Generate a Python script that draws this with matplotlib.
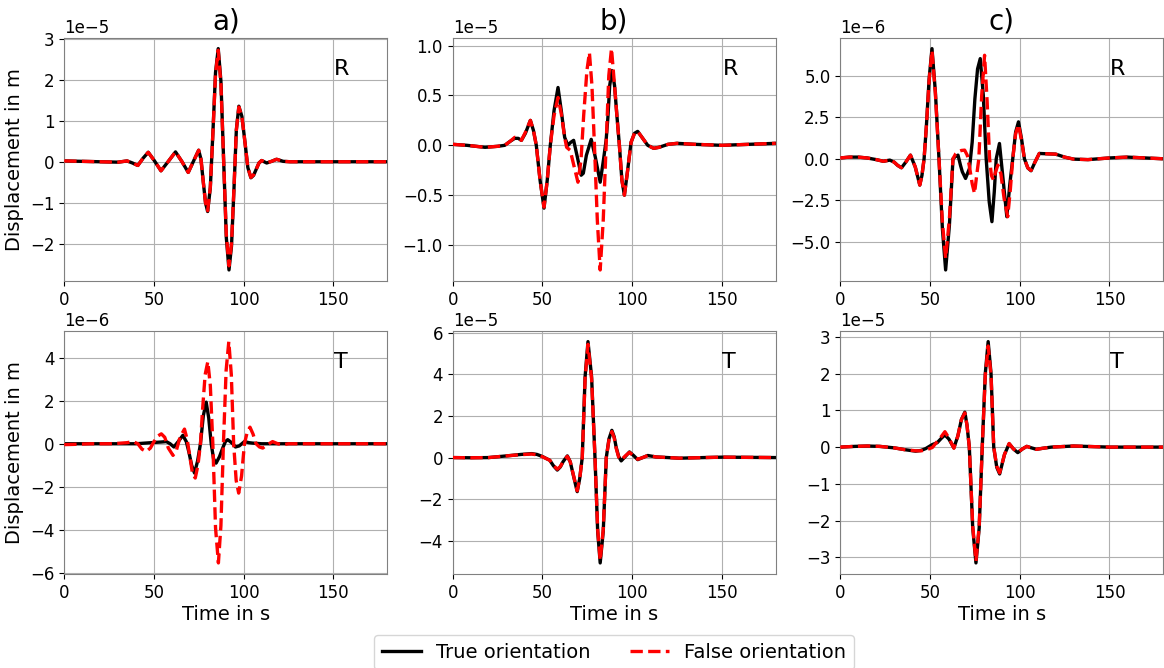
import matplotlib
matplotlib.use('Agg')
import matplotlib.pyplot as plt
from matplotlib.lines import Line2D

# ---- panel a) R  (x1e-5)
a_r_t = [0, 10, 20, 30, 35, 38, 41, 44, 46.8, 50.3, 53.9, 58, 62, 65.5, 69.1, 72.3, 74.9,
         76.2, 77.4, 78.7, 79.9, 81.4, 82.9, 84.3, 85.8, 87.3, 88.8, 90.3, 91.8, 93.2, 94.6,
         95.9, 97.3, 99.0, 100.7, 102.3, 104.0, 105.5, 107, 108.5, 110, 112.8, 115.5, 118.3,
         122, 126, 140, 160, 180]
a_r_true = [0.03, 0.02, 0.01, 0.0, 0.03, -0.02, -0.08, 0.1, 0.24, 0.03, -0.21, 0.02, 0.25, 0.02,
            -0.25, 0.05, 0.29, 0.07, -0.45, -0.98, -1.2, -0.62, 0.78, 2.18, 2.76, 1.97, 0.07,
            -1.83, -2.62, -2.04, -0.63, 0.78, 1.36, 1.11, 0.49, -0.13, -0.38, -0.32, -0.17,
            -0.02, 0.04, -0.02, 0.02, 0.07, 0.02, 0.01, 0.01, 0.01, 0.01]
a_r_false = [0.03, 0.02, 0.01, 0.0, 0.03, -0.02, -0.08, 0.1, 0.24, 0.03, -0.21, 0.02, 0.25, 0.02,
             -0.25, 0.05, 0.29, 0.07, -0.45, -0.98, -1.18, -0.6, 0.76, 2.14, 2.72, 1.9, 0.05,
             -1.75, -2.52, -1.98, -0.6, 0.78, 1.34, 1.1, 0.48, -0.13, -0.37, -0.31, -0.17,
             -0.02, 0.04, -0.02, 0.02, 0.07, 0.02, 0.01, 0.01, 0.01, 0.01]

# ---- panel b) R  (x1e-5)
b_r_t = [0, 8, 18, 25, 29, 32, 34.6, 36.5, 38.3, 40.5, 43.3, 45, 46.6, 48.7, 50.9, 52.7, 54.4,
         56.5, 58.7, 60.5, 62.4, 64.2, 65.8, 67.4, 69.5, 71.6, 72.8, 74.5, 77.2, 79.5, 82.2,
         84, 85.5, 86.5, 87.5, 88.8, 90.2, 91.5, 92.9, 94.3, 95.7, 97.5, 99.4, 101.3, 103.1,
         105.5, 108.7, 112, 115, 120, 125, 135, 150, 165, 180]
b_r_true = [0.01, 0.0, -0.02, -0.01, 0.0, 0.04, 0.07, 0.07, 0.05, 0.12, 0.25, 0.15, 0.0, -0.35,
            -0.63, -0.35, 0.0, 0.35, 0.58, 0.35, 0.08, 0.0, 0.03, 0.05, -0.12, -0.30, -0.28,
            -0.1, 0.06, -0.12, -0.37, -0.15, 0.05, 0.28, 0.6, 0.75, 0.6, 0.3, 0.0, -0.35, -0.50,
            -0.25, 0.03, 0.12, 0.14, 0.08, 0.0, -0.03, -0.02, 0.01, 0.02, 0.01, 0.0, 0.01, 0.02]
b_r_tf = [0, 8, 18, 25, 29, 32, 34.6, 36.5, 38.3, 40.5, 43.3, 45, 46.6, 48.7, 50.9, 52.7, 54.4,
          56.5, 58.7, 60.5, 62.4, 63.5, 65.5, 67.5, 69.8, 71.5, 73, 74.8, 76.2, 77.6, 79,
          80.6, 82.2, 83.9, 85.5, 87, 88.5, 90.2, 91.5, 92.9, 94.3, 95.7, 97.5, 99.4, 101.3,
          103.1, 105.5, 108.7, 112, 115, 120, 125, 135, 150, 165, 180]
b_r_false = [0.01, 0.0, -0.02, -0.01, 0.0, 0.04, 0.08, 0.07, 0.05, 0.13, 0.25, 0.15, 0.0, -0.35,
             -0.62, -0.35, 0.0, 0.3, 0.48, 0.32, 0.08, -0.02, -0.05, -0.2, -0.37, -0.15, 0.3,
             0.75, 0.93, 0.6, 0.0, -0.75, -1.25, -0.75, 0.0, 0.7, 0.97, 0.6, 0.3, 0.0, -0.35,
             -0.50, -0.25, 0.03, 0.12, 0.14, 0.08, 0.0, -0.03, -0.02, 0.01, 0.02, 0.01, 0.0,
             0.01, 0.02]

# ---- panel c) R  (x1e-6)
c_r_t = [0, 5, 10, 15, 20, 24, 27.6, 30, 32, 34.1, 36.5, 39.1, 41.8, 44.3, 45.5, 46.7, 48,
         49.5, 51.1, 53, 55, 56.9, 58.7, 60.8, 62.8, 64.3, 65.6, 67, 68, 69.8, 72, 73.5, 75,
         76.5, 78, 79.7, 81.3, 83, 84.5, 85.8, 86.9, 88.7, 90.5, 92.8, 94.5, 96.1, 97.7, 99.3,
         101, 102.6, 104.5, 106.3, 108.5, 110.9, 115, 120, 125, 130, 138, 150, 160, 170, 180]
c_r_true = [0.05, 0.1, 0.1, 0.05, -0.05, -0.15, -0.08, -0.2, -0.4, -0.54, -0.2, 0.22, -0.5,
            -1.58, -1.0, 0.0, 2.0, 4.8, 6.62, 4.0, 0.0, -4.2, -6.68, -4.0, 0.0, 0.15, 0.22,
            -0.4, -0.78, -1.18, -0.58, 1.0, 3.6, 5.4, 6.02, 3.8, 0.0, -2.6, -3.78, -2.0, 0.0,
            0.92, -1.0, -3.48, -1.5, 0.0, 1.6, 2.22, 1.2, 0.0, -0.55, -0.72, -0.2, 0.32, 0.3,
            0.28, 0.1, -0.02, -0.05, 0.05, 0.1, 0.05, 0.0]
c_r_tf = [0, 5, 10, 15, 20, 24, 27.6, 30, 32, 34.1, 36.5, 39.1, 41.8, 44.3, 45.5, 46.7, 48,
          49.5, 51.1, 53, 55, 56.9, 58.7, 60.8, 62.8, 64.3, 65.6, 67.5, 69.3, 70.8, 72, 73.5,
          74.8, 76, 77.2, 78.8, 80.4, 81.8, 83.2, 84.2, 85.4, 86.5, 87.8, 89.5, 91.3, 93.3,
          94.8, 96.1, 97.7, 99.3, 101, 102.6, 104.5, 106.3, 108.5, 110.9, 115, 120, 125, 130,
          138, 150, 160, 170, 180]
c_r_false = [0.05, 0.1, 0.1, 0.05, -0.05, -0.15, -0.08, -0.2, -0.4, -0.54, -0.2, 0.22, -0.5,
             -1.58, -1.0, 0.0, 2.0, 4.7, 6.5, 3.9, 0.0, -3.8, -5.98, -3.6, 0.0, 0.3, 0.42,
             0.5, 0.52, 0.2, -0.48, -1.5, -2.08, -1.0, 0.0, 3.8, 6.22, 3.5, 0.0, -1.0, -1.28,
             -0.8, -0.38, -0.9, -2.4, -3.48, -1.8, 0.0, 1.5, 2.05, 1.1, 0.0, -0.55, -0.7, -0.2,
             0.32, 0.3, 0.28, 0.1, -0.02, -0.05, 0.05, 0.1, 0.05, 0.0]

# ---- panel a) T  (x1e-6)
a_t_t = [0, 20, 40, 45, 50, 54, 56.9, 59, 61.1, 63.5, 66.1, 68, 69.5, 71, 72.6, 74.3, 75.9,
         77.5, 79.1, 80.5, 81.9, 83.2, 84.6, 86.5, 88.3, 89.8, 91.1, 92.5, 93.9, 95.4, 97.5,
         100.4, 103, 105, 110, 180]
a_t_true = [0.0, 0.0, 0.0, 0.03, 0.06, 0.08, 0.1, 0.0, -0.15, 0.1, 0.39, 0.1, -0.4, -1.0, -1.36,
            -0.8, 0.0, 1.3, 1.93, 1.2, 0.0, -0.7, -0.9, -0.6, -0.2, 0.1, 0.19, 0.1, 0.0, -0.15,
            -0.1, 0.1, 0.05, 0.03, 0.0, 0.0]
a_t_tf = [0, 5, 15, 25, 30, 35, 38.3, 41, 43.3, 45.7, 48, 50, 52, 54.1, 56, 58, 60.6, 62.5,
          64.5, 67, 68.5, 70, 71.5, 73, 74.5, 75.9, 77, 78.5, 80, 81.4, 82.8, 84.3, 85.9, 87.3,
          88.7, 90.2, 91.7, 93.1, 94.4, 95.8, 97.2, 98.8, 100.4, 102, 103.5, 105.2, 106.9,
          108.8, 110.6, 113, 116.1, 119, 121.7, 125, 180]
a_t_false = [-0.04, -0.03, 0.0, 0.0, 0.02, 0.05, 0.1, 0.0, -0.25, -0.36, -0.2, 0.1, 0.35, 0.46,
             0.3, -0.2, -0.54, -0.3, 0.3, 0.68, 0.2, -0.6, -1.4, -1.59, -1.0, 0.0, 1.5, 3.2,
             3.81, 2.7, 0.0, -3.9, -5.53, -3.8, 0.0, 3.4, 4.74, 3.2, 0.0, -1.7, -2.29, -1.5,
             0.0, 0.55, 0.77, 0.45, 0.0, -0.15, -0.2, -0.05, 0.1, 0.0, -0.05, 0.0, 0.0]

# ---- panel b) T  (x1e-5)
b_t_t = [0, 10, 20, 30, 38, 44, 47, 50, 54.1, 56.2, 58.3, 60, 61.5, 63.9, 65.5, 67, 69.4, 70.8,
         72.2, 73.8, 75.4, 77.4, 79.3, 80.8, 82.2, 83.9, 85.6, 87.1, 88.7, 90, 91.1, 92.5,
         93.9, 96.2, 98.5, 100.8, 103.1, 105.9, 108.7, 113.3, 120, 126.3, 140, 150, 165, 180]
b_t_true = [0.0, -0.01, 0.0, 0.08, 0.15, 0.19, 0.15, 0.05, -0.13, -0.4, -0.6, -0.45, -0.2, 0.08,
            -0.2, -0.76, -1.64, -1.0, 0.0, 3.9, 5.58, 3.9, 0.0, -3.55, -5.07, -3.55, 0.0, 0.9,
            1.31, 1.0, 0.5, 0.05, -0.16, 0.05, 0.27, 0.1, -0.1, 0.0, 0.1, 0.03, 0.0, -0.03, 0.0,
            0.02, 0.01, 0.0]
b_t_false = [0.0, -0.01, 0.0, 0.08, 0.14, 0.17, 0.13, 0.04, -0.13, -0.38, -0.56, -0.43, -0.2,
             0.06, -0.2, -0.74, -1.6, -1.0, 0.0, 3.8, 5.45, 3.8, 0.0, -3.45, -4.95, -3.45, 0.0,
             0.85, 1.25, 0.95, 0.45, 0.02, -0.12, 0.08, 0.25, 0.08, -0.08, 0.0, 0.1, 0.03, 0.0,
             -0.03, 0.0, 0.02, 0.01, 0.0]

# ---- panel c) T  (x1e-5)
c_t_t = [0, 8, 15, 22, 30, 36, 42, 45, 47.6, 51.3, 54, 56.5, 58.3, 60.5, 63.3, 65.5, 67.5, 69.4,
         70.6, 71.9, 73.8, 75.6, 77.4, 79.1, 80.8, 82.4, 84, 85.5, 87.2, 88.8, 91.5, 94.1, 96.5,
         98.9, 101.5, 103.9, 106.5, 109.3, 113, 117.6, 130, 150, 180]
c_t_true = [0.0, 0.02, 0.03, 0.02, -0.02, -0.07, -0.11, -0.09, -0.04, 0.07, 0.12, 0.25, 0.33,
            0.22, -0.02, 0.3, 0.75, 0.95, 0.6, 0.0, -2.2, -3.15, -2.2, 0.0, 2.0, 2.87, 2.0, 0.0,
            -0.55, -0.73, -0.2, 0.09, -0.05, -0.15, -0.05, 0.02, -0.02, -0.06, -0.03, 0.0, 0.03,
            0.0, 0.0]
c_t_false = [0.0, 0.02, 0.03, 0.02, -0.02, -0.07, -0.1, -0.1, -0.08, -0.01, 0.15, 0.3, 0.42,
             0.25, -0.03, 0.3, 0.75, 0.93, 0.6, 0.0, -2.15, -3.1, -2.15, 0.0, 1.95, 2.75, 1.95,
             0.0, -0.52, -0.7, -0.2, 0.1, -0.05, -0.14, -0.05, 0.02, -0.02, -0.06, -0.03, 0.0,
             0.03, 0.0, 0.0]

panel_titles = ['a)', 'b)', 'c)']
comp_labels = ['R', 'T']
legend_labels = ['True orientation', 'False orientation']

# (row, col): (t_true, true, t_false, false, scale)
panels = {
    (0, 0): (a_r_t, a_r_true, a_r_t, a_r_false, 1e-5),
    (0, 1): (b_r_t, b_r_true, b_r_tf, b_r_false, 1e-5),
    (0, 2): (c_r_t, c_r_true, c_r_tf, c_r_false, 1e-6),
    (1, 0): (a_t_t, a_t_true, a_t_tf, a_t_false, 1e-6),
    (1, 1): (b_t_t, b_t_true, b_t_t, b_t_false, 1e-5),
    (1, 2): (c_t_t, c_t_true, c_t_t, c_t_false, 1e-5),
}

fig = plt.figure(figsize=(11.64, 6.68), dpi=100)
lefts = [0.0552, 0.3889, 0.7219]
bottoms = [0.5793, 0.1407]
w, h = 0.2775, 0.3645

axes = {}
for (r, c), (tt, vt, tf, vf, sc) in panels.items():
    ax = fig.add_axes([lefts[c], bottoms[r], w, h])
    axes[(r, c)] = ax
    ax.plot(tt, [v * sc for v in vt], color='k', lw=2.4, zorder=2)
    ax.plot(tf, [v * sc for v in vf], color='red', lw=2.4, ls='--', zorder=3)
    ax.set_xlim(0, 180)
    ax.grid(True, color='#b0b0b0', lw=0.8)
    ax.set_axisbelow(True)
    ax.tick_params(labelsize=12)
    ax.yaxis.get_offset_text().set_fontsize(12)
    for s in ax.spines.values():
        s.set_color('#808080')
    ax.text(0.835, 0.87, comp_labels[r], transform=ax.transAxes, fontsize=16, va='center')
    if r == 0:
        ax.set_title(panel_titles[c], fontsize=20)
    else:
        ax.set_xlabel('Time in s', fontsize=14, labelpad=2)
    if c == 0:
        ax.set_ylabel('Displacement in m', fontsize=14)

handles = [Line2D([], [], color='k', lw=2.4), Line2D([], [], color='red', lw=2.4, ls='--')]
axes[(1, 1)].legend(handles, legend_labels, loc='upper center', bbox_to_anchor=(0.5, -0.25),
                    ncol=2, fontsize=14, borderaxespad=0)

fig.savefig('out.png', dpi=100)
